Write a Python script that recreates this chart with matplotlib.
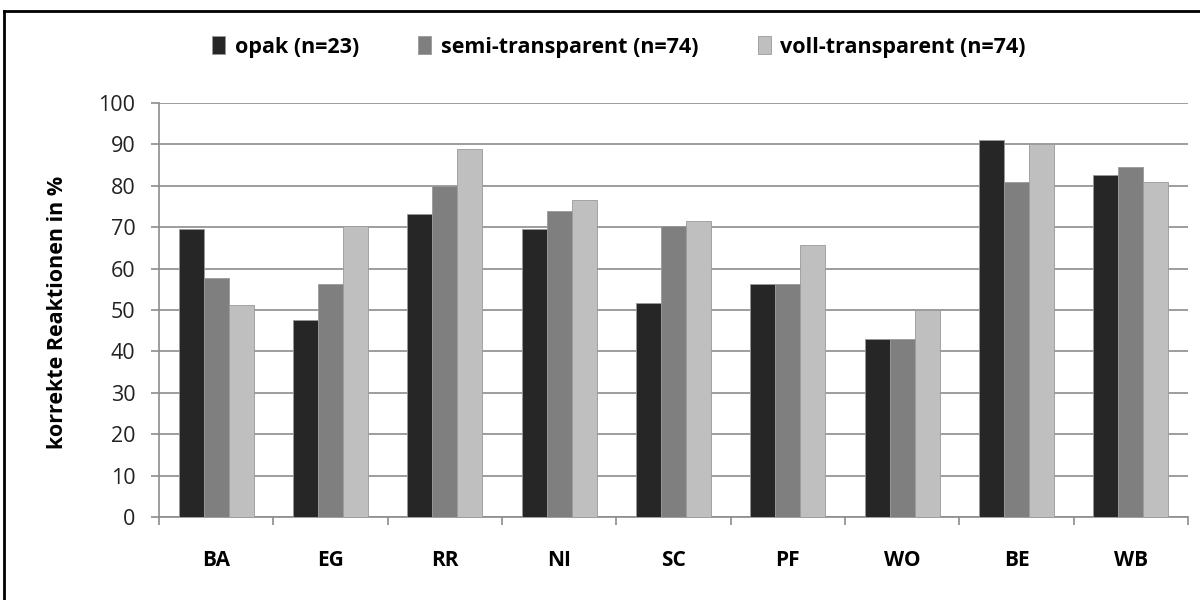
import matplotlib
matplotlib.use("Agg")
import matplotlib.pyplot as plt
from matplotlib.lines import Line2D
import numpy as np

plt.rcParams['font.family'] = ['Open Sans', 'DejaVu Sans']

# data
categories = ['BA', 'EG', 'RR', 'NI', 'SC', 'PF', 'WO', 'BE', 'WB']
series_names = ['opak (n=23)', 'semi-transparent (n=74)', 'voll-transparent (n=74)']
opak = [69.5, 47.7, 73.3, 69.5, 51.7, 56.2, 43.1, 91.1, 82.5]
semi = [57.8, 56.3, 79.9, 74.0, 70.3, 56.2, 43.1, 81.0, 84.5]
voll = [51.2, 70.2, 89.0, 76.5, 71.5, 65.8, 49.9, 90.1, 81.0]
colors = ['#262626', '#7f7f7f', '#bfbfbf']
y_ticks = list(range(0, 101, 10))

fig = plt.figure(figsize=(12, 6), dpi=100)
ax = fig.add_axes([159 / 1200, 1 - 517 / 600, 1029 / 1200, 414 / 600])

x = np.arange(len(categories))
w = 0.218
for i, (vals, name, c) in enumerate(zip([opak, semi, voll], series_names, colors)):
    ax.bar(x + (i - 1) * w, vals, width=w, color=c, edgecolor='#999999',
           linewidth=0.6, label=name, zorder=3)

ax.set_xlim(-0.5, len(categories) - 0.5)
ax.set_ylim(0, 100)
ax.set_yticks(y_ticks)
ax.tick_params(axis='y', length=6, width=1.2, color='#8c8c8c', pad=11,
               labelsize=15.5, labelcolor='#222222')
ax.yaxis.grid(True, color='#8c8c8c', linewidth=1.2, zorder=0)
ax.set_axisbelow(True)

ax.set_xticks(x)
ax.set_xticklabels(categories, fontweight='bold', fontsize=15)
ax.tick_params(axis='x', which='major', length=0, pad=24)
ax.set_xticks(np.arange(-0.5, len(categories)), minor=True)
ax.tick_params(axis='x', which='minor', length=6, width=1.2, color='#8c8c8c')

for s in ['top', 'right']:
    ax.spines[s].set_visible(False)
for s in ['left', 'bottom']:
    ax.spines[s].set_color('#8c8c8c')
    ax.spines[s].set_linewidth(1.2)

fig.text(58 / 1200, 1 - 312 / 600, 'korrekte Reaktionen in %', rotation=90,
         ha='center', va='center', fontsize=15.5, fontweight='bold')

leg = fig.legend(loc='center', bbox_to_anchor=(619 / 1200, 1 - 47 / 600), ncol=3,
                 frameon=False, prop={'weight': 'bold', 'size': 15.5},
                 handlelength=0.6, handleheight=0.9, handletextpad=0.45,
                 columnspacing=2.75)

# black frame cut at right and bottom
fig.add_artist(Line2D([4 / 1200, 1], [1 - 11 / 600, 1 - 11 / 600], color='black',
                      linewidth=2, transform=fig.transFigure))
fig.add_artist(Line2D([4 / 1200, 4 / 1200], [0, 1 - 11 / 600], color='black',
                      linewidth=2, transform=fig.transFigure))

fig.savefig('out.png', dpi=100)
